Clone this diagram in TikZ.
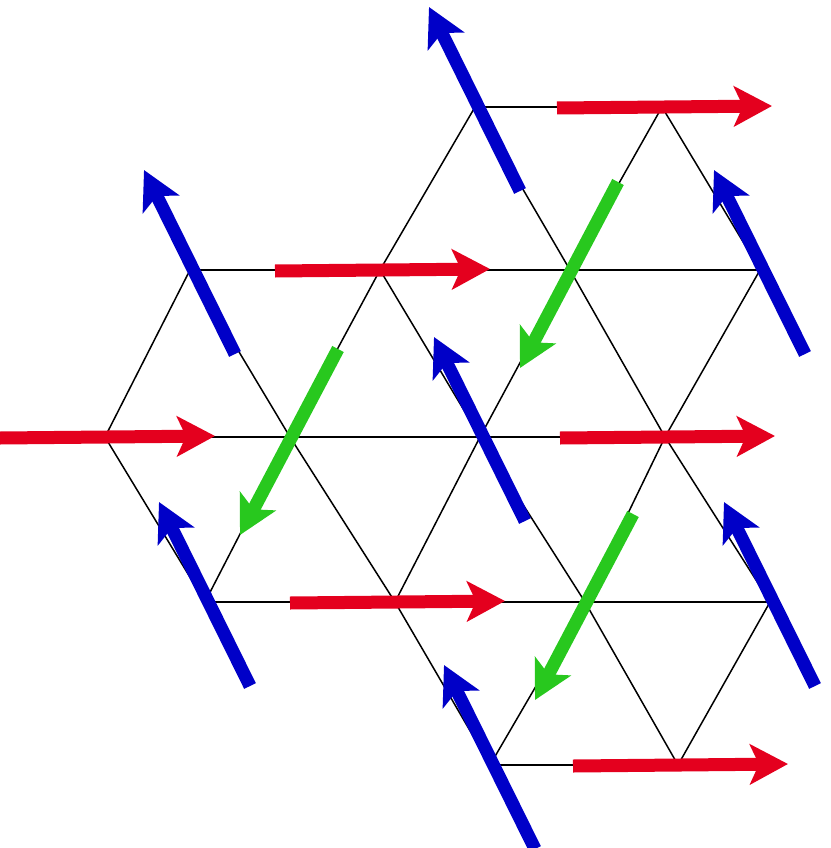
\documentclass[tikz,border=0pt]{standalone}
\usetikzlibrary{arrows.meta, calc}
\definecolor{spinred}{RGB}{228,0,30}
\definecolor{spinblue}{RGB}{0,0,200}
\definecolor{spingreen}{RGB}{40,200,30}
\begin{document}
\begin{tikzpicture}[x=1pt, y=-1pt,
    bond/.style={black, line width=1.5pt},
    spin/.style={line width=13pt, -{Stealth[length=38pt, width=40pt, inset=9pt]}}]
    \useasboundingbox (0,0) rectangle (830,848);
    % Sites
    \foreach \n/\x/\y in {a1/475/107, a2/662/107,
        b1/190/270, b2/380/270, b3/570/270, b4/760/270,
        c1/105/437, c2/290/437, c3/480/437, c4/665/437,
        d1/205/602, d2/395/602, d3/585/602, d4/770/602,
        e1/490/765, e2/678/765}
        \coordinate (\n) at (\x,\y);
    % Bonds
    \draw[bond] (a1) -- (a2);
    \draw[bond] (b1) -- (b4);
    \draw[bond] (c1) -- (c4);
    \draw[bond] (d1) -- (d4);
    \draw[bond] (e1) -- (e2);
    \foreach \p/\q in {a1/b2, a1/b3, a2/b3, a2/b4,
        b1/c1, b1/c2, b2/c2, b2/c3, b3/c3, b3/c4, b4/c4,
        c1/d1, c2/d1, c2/d2, c3/d2, c3/d3, c4/d3, c4/d4,
        d2/e1, d3/e1, d3/e2, d4/e2}
        \draw[bond] (\p) -- (\q);
    % Spins
    \foreach \s in {a1, b1, b4, c3, d1, d4, e1}
        \draw[spin, spinblue] ($(\s)+(45,84)$) -- ($(\s)+(-46,-100)$);
    \foreach \s in {a2, b2, c1, c4, d2, e2}
        \draw[spin, spinred] ($(\s)+(-105,1)$) -- ($(\s)+(110,-1)$);
    \foreach \s in {b3, c2, d3}
        \draw[spin, spingreen] ($(\s)+(48,-88)$) -- ($(\s)+(-50,98)$);
\end{tikzpicture}
\end{document}
